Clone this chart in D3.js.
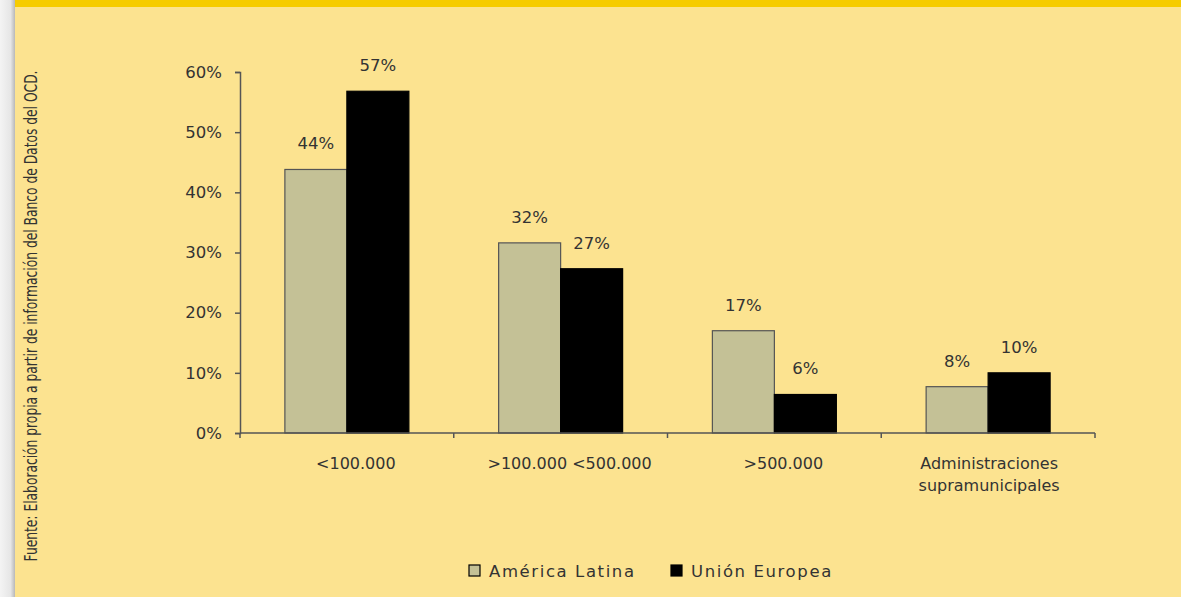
<!DOCTYPE html>
<html><head><meta charset="utf-8">
<script src="https://cdn.jsdelivr.net/npm/d3@7"></script>
<style>
html,body{margin:0;padding:0;background:#fce390;}
svg{display:block;}
text{font-family:"DejaVu Sans",sans-serif;fill:#333;}
</style></head>
<body><svg id="c" width="1181" height="597"></svg>
<script>
const categories = ["<100.000", ">100.000 <500.000", ">500.000", "Administraciones\nsupramunicipales"];
const seriesNames = ["América Latina", "Unión Europea"];
const americaLatina = [43.8, 31.6, 17.0, 7.7];
const unionEuropea = [56.8, 27.3, 6.4, 10.0];
const yTicks = [0, 10, 20, 30, 40, 50, 60];
const sourceText = "Fuente: Elaboración propia a partir de información del Banco de Datos del OCD.";

const colors = ["#c4c196", "#000000"];
const series = [americaLatina, unionEuropea];

const svg = d3.select("#c");
const W = 1181, H = 597;

// background
svg.append("rect").attr("width", W).attr("height", H).attr("fill", "#fce390");
const defs = svg.append("defs");
const g1 = defs.append("linearGradient").attr("id", "shadow").attr("x1", 0).attr("x2", 1);
g1.append("stop").attr("offset", 0).attr("stop-color", "#f4f4f4");
g1.append("stop").attr("offset", 0.7).attr("stop-color", "#e6e6e6");
g1.append("stop").attr("offset", 1).attr("stop-color", "#b8b8b8");
svg.append("rect").attr("x", 0).attr("y", 0).attr("width", 15).attr("height", H).attr("fill", "url(#shadow)");
svg.append("rect").attr("x", 15).attr("y", 0).attr("width", W - 15).attr("height", 7).attr("fill", "#f6cc00");

// scales
const x = d3.scaleBand().domain(categories).range([240, 1095]).paddingInner(0).paddingOuter(0);
const xs = d3.scaleBand().domain(seriesNames).range([0, x.bandwidth()]).paddingInner(0).paddingOuter(0.724);
const y = d3.scaleLinear().domain([0, 60]).range([433, 72]);

// y axis
const yAxis = svg.append("g").attr("transform", "translate(240,0)")
  .call(d3.axisLeft(y).tickValues(yTicks).tickFormat(d => d + "%").tickSize(5).tickPadding(13));
yAxis.select(".domain").attr("stroke", "#555").attr("stroke-width", 1.5);
yAxis.selectAll(".tick line").attr("stroke", "#555").attr("stroke-width", 1.5);
yAxis.selectAll(".tick text").attr("font-size", 16.5).attr("fill", "#333").attr("font-family", "DejaVu Sans");

// bars
seriesNames.forEach((s, si) => {
  svg.append("g").selectAll("rect").data(series[si]).join("rect")
    .attr("x", (d, i) => x(categories[i]) + xs(s))
    .attr("y", d => y(d))
    .attr("width", xs.bandwidth())
    .attr("height", d => y(0) - y(d))
    .attr("fill", colors[si])
    .attr("stroke", si === 0 ? "#555" : "#000")
    .attr("stroke-width", 1.2);
  svg.append("g").selectAll("text").data(series[si]).join("text")
    .attr("x", (d, i) => x(categories[i]) + xs(s) + xs.bandwidth() / 2)
    .attr("y", d => y(d) - 20)
    .attr("text-anchor", "middle")
    .attr("font-size", 16.5)
    .text(d => Math.round(d) + "%");
});

// x axis
const xAxis = svg.append("g");
xAxis.append("line").attr("x1", x.range()[0]).attr("x2", x.range()[1])
  .attr("y1", y(0)).attr("y2", y(0)).attr("stroke", "#555").attr("stroke-width", 1.5);
const bounds = categories.map(c => x(c)).concat([x.range()[1]]);
xAxis.selectAll("line.tk").data(bounds).join("line").attr("class", "tk")
  .attr("x1", d => d).attr("x2", d => d).attr("y1", y(0)).attr("y2", y(0) + 5)
  .attr("stroke", "#555").attr("stroke-width", 1.5);
categories.forEach((c, ci) => {
  const lines = c.split("\n");
  const cx = x(c) + x.bandwidth() / 2 + (ci < 3 ? 9 : 1);
  const t = xAxis.append("text").attr("text-anchor", "middle").attr("font-size", 16)
    .attr("x", cx).attr("y", y(0) + 36);
  lines.forEach((l, li) => {
    t.append("tspan").attr("x", cx).attr("dy", li === 0 ? 0 : 22).text(l);
  });
});

// legend
const legendX = [469, 671];
seriesNames.forEach((s, si) => {
  svg.append("rect").attr("x", legendX[si]).attr("y", 565).attr("width", 11).attr("height", 11)
    .attr("fill", colors[si]).attr("stroke", "#000").attr("stroke-width", 1.2);
  svg.append("text").attr("x", legendX[si] + 20).attr("y", 577).attr("font-size", 16.5)
    .attr("letter-spacing", "1.6px").text(s);
});

// source text
svg.append("text")
  .attr("transform", "translate(37,316) rotate(-90)")
  .attr("text-anchor", "middle")
  .attr("font-family", "Liberation Sans Narrow, Liberation Sans, sans-serif")
  .attr("font-size", 17)
  .attr("fill", "#222")
  .attr("textLength", 491)
  .attr("lengthAdjust", "spacingAndGlyphs")
  .text(sourceText);
</script></body></html>
